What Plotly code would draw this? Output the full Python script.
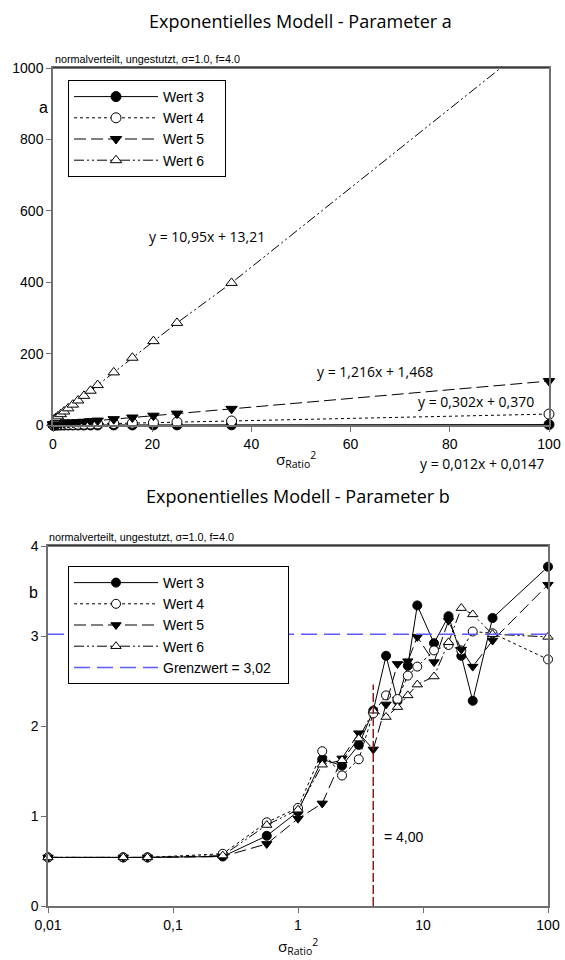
import plotly.graph_objects as go

W, H = 565, 960

# ---------------- data ----------------
X = [0.01, 0.04, 0.0625, 0.25, 0.5625, 1, 1.5625, 2.25, 3.0625, 4, 5.0625,
     6.25, 7.5625, 9, 12.25, 16, 20.25, 25, 36, 100]

a_wert3 = [0.02, 0.02, 0.02, 0.02, 0.02, 0.03, 0.03, 0.04, 0.05, 0.06, 0.07,
           0.09, 0.10, 0.12, 0.16, 0.21, 0.26, 0.32, 0.45, 1.21]
a_wert4 = [0.38, 0.38, 0.39, 0.45, 0.54, 0.67, 0.84, 1.05, 1.30, 1.60, 1.90,
           2.30, 2.70, 3.10, 4.10, 5.20, 6.50, 7.90, 11.2, 30.6]
a_wert5 = [1.5, 1.5, 1.5, 1.8, 2.1, 2.7, 3.4, 4.2, 5.2, 6.3, 7.6,
           9.1, 10.7, 12.4, 16.4, 21.0, 26.1, 32.0, 45.2, 123.1]
a_wert6 = [13.3, 13.6, 13.9, 16.0, 19.4, 24.2, 30.3, 37.8, 46.7, 57.0, 68.7,
           81.7, 96.0, 111.8, 147.4, 188.4, 234.9, 286.0, 398.0, 1108.0]

b_wert3 = [0.54, 0.54, 0.54, 0.55, 0.78, 1.05, 1.63, 1.56, 1.79, 2.17, 2.78,
           2.28, 2.67, 3.34, 2.92, 3.22, 2.78, 2.28, 3.20, 3.77]
b_wert4 = [0.54, 0.54, 0.54, 0.58, 0.93, 1.09, 1.72, 1.45, 1.63, 2.14, 2.34,
           2.30, 2.56, 2.66, 2.84, 2.90, 2.84, 3.05, 3.03, 2.74]
b_wert5 = [0.54, 0.54, 0.54, 0.55, 0.69, 0.97, 1.14, 1.64, 1.92, 1.74, 2.24,
           2.69, 2.72, 2.99, 2.71, 3.17, 2.85, 2.66, 2.95, 3.57]
b_wert6 = [0.54, 0.54, 0.54, 0.56, 0.90, 1.07, 1.57, 1.62, 1.86, 2.17, 2.10,
           2.21, 2.34, 2.46, 2.55, 2.93, 3.31, 3.24, 3.02, 2.99]

series_names = ["Wert 3", "Wert 4", "Wert 5", "Wert 6"]
grenz_name = "Grenzwert = 3,02"
grenzwert = 3.02
grenz_x = [0.01, 100]
vline_x = 4.0
vline_top = 2.46

a_xticks = [0, 20, 40, 60, 80, 100]
a_yticks = [0, 200, 400, 600, 800, 1000]
b_xticks = [0.01, 0.1, 1, 10, 100]
b_xticklabels = ["0,01", "0,1", "1", "10", "100"]
b_yticks = [0, 1, 2, 3, 4]

regressions = ["y = 10,95x + 13,21", "y = 1,216x + 1,468",
               "y = 0,302x + 0,370", "y = 0,012x + 0,0147"]

# ---------------- helpers ----------------
def px(x):
    return x / W

def py(y):
    return 1 - y / H

ARIAL = "Liberation Sans, Arial, sans-serif"
TICKFONT = dict(family=ARIAL, size=14, color="#000")
TITLEFONT = dict(family="Open Sans, sans-serif", size=18, color="#000")
EQFONT = dict(family="Open Sans, sans-serif", size=14, color="#000")
AXCOL = "#707070"
PAD = "\u00a0" * 4

styles = [
    dict(dash="solid", symbol="circle", fill="#000"),
    dict(dash="dot", symbol="circle", fill="#fff"),
    dict(dash="12px,5px", symbol="triangle-down", fill="#000"),
    dict(dash="10px,3px,2px,3px,2px,3px", symbol="triangle-up", fill="#fff"),
]

fig = go.Figure()

a_data = [a_wert3, a_wert4, a_wert5, a_wert6]
b_data = [b_wert3, b_wert4, b_wert5, b_wert6]

for name, ys, st in zip(series_names, a_data, styles):
    fig.add_trace(go.Scatter(
        x=X, y=ys, name=name + PAD, mode="lines+markers", xaxis="x", yaxis="y",
        legend="legend", cliponaxis=(name == "Wert 6"),
        line=dict(color="#000", width=1, dash=st["dash"]),
        marker=dict(symbol=st["symbol"], size=10, color=st["fill"],
                    line=dict(color="#000", width=1)),
    ))

for name, ys, st in zip(series_names, b_data, styles):
    fig.add_trace(go.Scatter(
        x=X, y=ys, name=name, mode="lines+markers", xaxis="x2", yaxis="y2",
        legend="legend2", cliponaxis=False,
        line=dict(color="#000", width=1, dash=st["dash"]),
        marker=dict(symbol=st["symbol"], size=9, color=st["fill"],
                    line=dict(color="#000", width=1)),
    ))

fig.add_trace(go.Scatter(
    x=grenz_x, y=[grenzwert, grenzwert], name=grenz_name + "\u00a0" * 3,
    mode="lines", xaxis="x2", yaxis="y2", legend="legend2",
    line=dict(color="#5a5aff", width=1.5, dash="16px,7px"),
))

fig.add_trace(go.Scatter(
    x=[vline_x, vline_x], y=[0, vline_top], mode="lines", xaxis="x2", yaxis="y2",
    showlegend=False, line=dict(color="#8b1a1a", width=1.5, dash="9px,3px"),
))

axis_common = dict(showline=True, linecolor=AXCOL, linewidth=1.5, mirror=True,
                   ticks="outside", ticklen=5, tickcolor=AXCOL, tickwidth=1,
                   showgrid=False, zeroline=False, tickfont=TICKFONT,
                   automargin=False)

legend_common = dict(xanchor="left", yanchor="top", bgcolor="#fff",
                     bordercolor="#000", borderwidth=1,
                     font=dict(family=ARIAL, size=14, color="#000"),
                     itemwidth=84, tracegroupgap=0, itemclick=False)

fig.update_layout(
    width=W, height=H, margin=dict(l=0, r=0, t=0, b=0, autoexpand=False),
    paper_bgcolor="#fff", plot_bgcolor="#fff", showlegend=True,
    xaxis=dict(domain=[px(53), px(549)], range=[0, 100], tickvals=a_xticks,
               anchor="y", **axis_common),
    yaxis=dict(domain=[py(425), py(68)], range=[0, 1000], tickvals=a_yticks,
               anchor="x", **axis_common),
    xaxis2=dict(domain=[px(48), px(548)], type="log", range=[-2, 2],
                tickvals=b_xticks, ticktext=b_xticklabels, anchor="y2",
                **axis_common),
    yaxis2=dict(domain=[py(906), py(546)], range=[0, 4], tickvals=b_yticks,
                anchor="x2", **axis_common),
    legend=dict(x=px(68), y=py(80), **legend_common),
    legend2=dict(x=px(68), y=py(566), **legend_common),
)

# black top border lines
for xr, yr in (("x", "y"), ("x2", "y2")):
    fig.add_shape(type="line", xref=xr + " domain", yref=yr + " domain",
                  x0=0, x1=1, y0=1, y1=1, line=dict(color="#000", width=1.2))

ann = []
def text(x, y, s, font, xanchor="center", yanchor="middle"):
    ann.append(dict(x=px(x), y=py(y), xref="paper", yref="paper", text=s,
                    showarrow=False, font=font, xanchor=xanchor, yanchor=yanchor))

text(300, 21, "Exponentielles Modell - Parameter a", TITLEFONT)
text(298, 496, "Exponentielles Modell - Parameter b", TITLEFONT)
SUBFONT = dict(family=ARIAL, size=10.8, color="#000")
text(53, 59, "normalverteilt, ungestutzt, σ=1.0, f=4.0", SUBFONT, xanchor="left")
text(47, 537, "normalverteilt, ungestutzt, σ=1.0, f=4.0", SUBFONT, xanchor="left")
LBL = dict(family=ARIAL, size=16, color="#000")
text(43, 107, "a", LBL)
text(33, 592, "b", LBL)

text(207, 237, regressions[0], EQFONT)
text(375, 372, regressions[1], EQFONT)
text(476, 402, regressions[2], EQFONT)
text(482, 463, regressions[3], EQFONT)

XT = dict(family="Open Sans, sans-serif", size=15, color="#000")
text(296, 459, "σ<sub>Ratio</sub><sup>2</sup>", XT)
text(298, 946, "σ<sub>Ratio</sub><sup>2</sup>", XT)
text(382, 837, "= 4,00", dict(family=ARIAL, size=14, color="#000"), xanchor="left")

fig.update_layout(annotations=ann)
fig.write_html(
    "out.html",
    config={"displayModeBar": False},
    post_script="document.body.style.margin='0';document.body.style.overflow='hidden';",
)
